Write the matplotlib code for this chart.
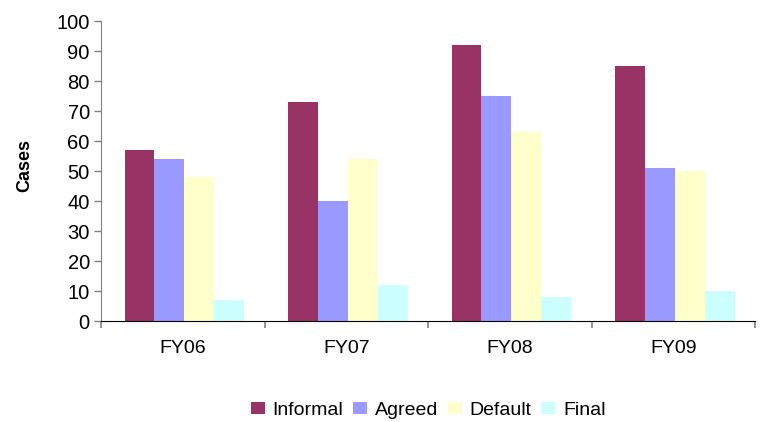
import matplotlib.pyplot as plt
import numpy as np

plt.rcParams['font.family'] = ['Liberation Sans', 'DejaVu Sans']

years = ['FY06', 'FY07', 'FY08', 'FY09']
informal = [57, 73, 92, 85]
agreed = [54, 40, 75, 51]
default = [48, 54, 63, 50]
final = [7, 12, 8, 10]

series = [('Informal', informal, '#993366'),
          ('Agreed', agreed, '#9999FF'),
          ('Default', default, '#FFFFCC'),
          ('Final', final, '#CCFFFF')]

fig = plt.figure(figsize=(7.61, 4.22), dpi=100)
ax = fig.add_axes([0.1327, 0.2393, 0.8595, 0.7109])

x = np.arange(len(years))
w = 0.183
for i, (name, vals, col) in enumerate(series):
    ax.bar(x + (i - 1.5) * w + 0.01, vals, w, color=col, label=name, linewidth=0)

ax.set_xlim(-0.5, len(years) - 0.5)
ax.set_ylim(0, 100)
ax.set_yticks(range(0, 101, 10))
ax.set_xticks(x)
ax.set_xticklabels(years, fontsize=14)
ax.set_xticks(np.arange(-0.5, len(years)), minor=True)
ax.tick_params(axis='x', which='major', length=0, pad=14)
ax.tick_params(axis='x', which='minor', length=5, width=1.2, color='#808080', direction='out')
ax.tick_params(axis='y', length=5, width=1, color='#808080', labelsize=14.5, pad=3)

for s in ['top', 'right']:
    ax.spines[s].set_visible(False)
ax.spines['left'].set_color('#808080')
ax.spines['bottom'].set_color('black')

ax.set_ylabel('Cases', fontsize=13, fontweight='bold')
ax.yaxis.set_label_coords(-0.103, 0.52)

fig.legend(loc='center', bbox_to_anchor=(0.5625, 0.028), ncol=4, frameon=False,
           fontsize=14, handlelength=0.72, handleheight=0.62, handletextpad=0.4,
           columnspacing=0.5)

fig.savefig('out.png', dpi=100)
